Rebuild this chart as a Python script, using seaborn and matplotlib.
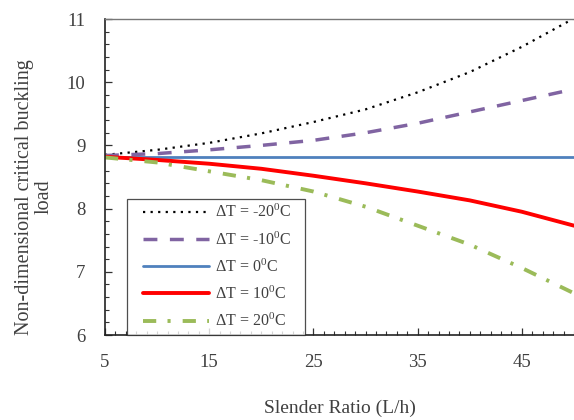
import matplotlib
matplotlib.use("Agg")
import matplotlib.pyplot as plt
from matplotlib.ticker import MultipleLocator
from matplotlib.lines import Line2D
from matplotlib.legend_handler import HandlerLine2D
import numpy as np
import pandas as pd
import seaborn as sns

# Slenderness ratio L/h
slender = [5, 10, 15, 20, 25, 30, 35, 40, 45, 50]

# Non-dimensional critical buckling load for each temperature rise
load_m20 = [8.85, 8.93, 9.04, 9.19, 9.37, 9.57, 9.84, 10.16, 10.56, 11.01]
load_m10 = [8.84, 8.87, 8.93, 9.00, 9.08, 9.20, 9.35, 9.53, 9.71, 9.89]
load_0 = [8.82, 8.82, 8.82, 8.82, 8.82, 8.82, 8.82, 8.82, 8.82, 8.82]
load_p10 = [8.82, 8.77, 8.71, 8.63, 8.52, 8.40, 8.27, 8.13, 7.95, 7.73]
load_p20 = [8.81, 8.73, 8.59, 8.45, 8.27, 8.03, 7.73, 7.43, 7.06, 6.66]

labels = [r"ΔT = -20$^{0}$C", r"ΔT = -10$^{0}$C", r"ΔT = 0$^{0}$C",
          r"ΔT = 10$^{0}$C", r"ΔT = 20$^{0}$C"]

series = [load_m20, load_m10, load_0, load_p10, load_p20]
colors = ["#000000", "#8064A2", "#4F81BD", "#FF0000", "#9BBB59"]
widths = [1.6, 2.5, 2.0, 2.8, 2.8]
styles = [(0, (1.0, 2.4)), (0, (4.0, 3.6)), "-", "-", (0, (3.4, 2.9, 0.8, 3.1))]

sns.set_theme(style="ticks")
plt.rcParams["font.family"] = ["Liberation Serif", "DejaVu Serif"]
plt.rcParams["mathtext.fontset"] = "custom"
plt.rcParams["mathtext.rm"] = "Liberation Serif"
plt.rcParams["mathtext.it"] = "Liberation Serif"

fig = plt.figure(figsize=(5.74, 4.2), dpi=100)
ax = fig.add_axes([105 / 574, 1 - 335 / 420, 1 - 105 / 574, (335 - 19) / 420])
ax.set_facecolor("white")

for vals, lab, col, lw, ls in zip(series, labels, colors, widths, styles):
    df = pd.DataFrame({"L/h": slender, "load": vals})
    sns.lineplot(data=df, x="L/h", y="load", ax=ax, color=col, linewidth=lw,
                 linestyle=ls, label=lab)

ax.set_xlim(5, 50)
ax.set_ylim(6, 11)
ax.xaxis.set_major_locator(MultipleLocator(10))
ax.xaxis.set_minor_locator(MultipleLocator(1))
ax.yaxis.set_major_locator(MultipleLocator(1))
ax.yaxis.set_minor_locator(MultipleLocator(0.2))
ax.set_xticks([5, 15, 25, 35, 45])
ax.tick_params(axis="both", which="both", direction="in", colors="#333333",
               labelcolor="#404040", labelsize=13.5)
ax.tick_params(axis="both", which="major", length=5, width=0.9, pad=14)
ax.tick_params(axis="both", which="minor", length=3, width=0.8)

for side in ["left", "bottom"]:
    ax.spines[side].set_color("#222222")
    ax.spines[side].set_linewidth(1.2)
ax.spines["top"].set_color("#777777")
ax.spines["top"].set_linewidth(1.0)
ax.spines["right"].set_visible(False)

ax.set_xlabel("Slender Ratio (L/h)", fontsize=14, color="#404040", labelpad=20)
ax.set_ylabel("Non-dimensional critical buckling\nload", fontsize=14.5,
              color="#404040", linespacing=1.05)
ax.yaxis.set_label_coords(-0.110, 0.437)

leg_w = (305 - 127) / 469
leg_h = (335 - 197) / 316
leg = ax.legend(loc="lower left", bbox_to_anchor=(0.047, 0.0, leg_w, leg_h),
                mode="expand", fontsize=11.5, frameon=True, fancybox=False,
                handlelength=4.8, handletextpad=0.38, labelspacing=0.62,
                borderpad=0.3, borderaxespad=0.0,
                handler_map={Line2D: HandlerLine2D(xpad=0.68)})
leg.get_frame().set_edgecolor("#222222")
leg.get_frame().set_linewidth(0.9)
for t in leg.get_texts():
    t.set_color("#404040")

fig.savefig("out.png", dpi=100, facecolor="white")
